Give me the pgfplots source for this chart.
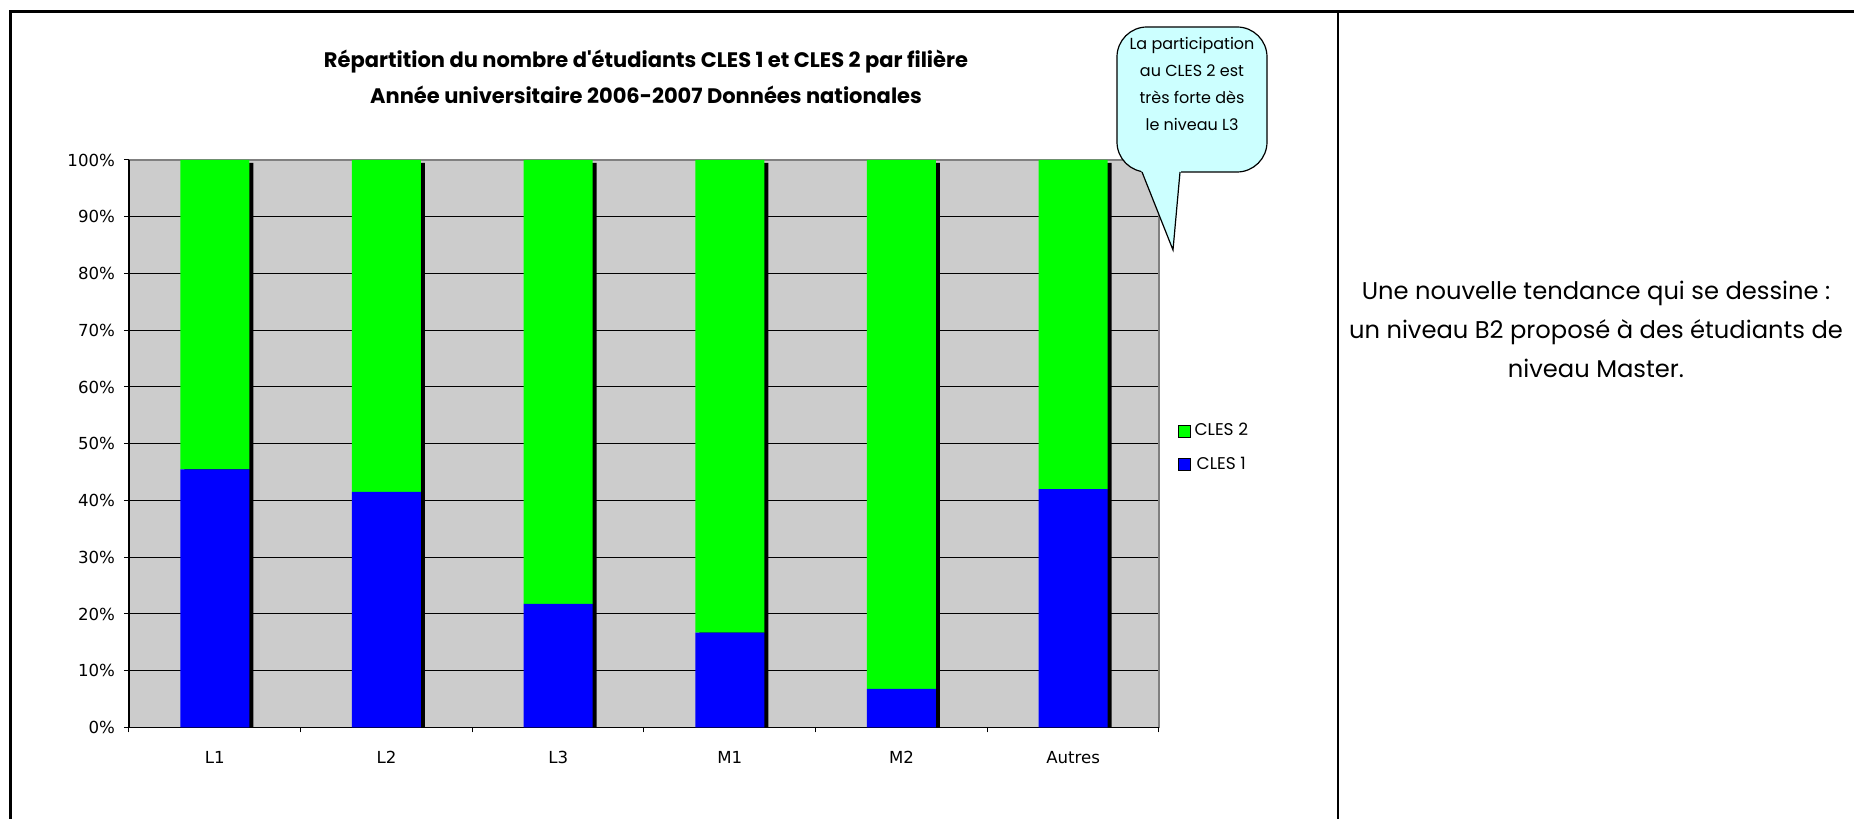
\documentclass[border=0pt]{standalone}
\usepackage{fontspec}
\setmainfont{DejaVu Sans}
\newfontfamily\comic{Poppins}
\usepackage{pgfplots}
\usepackage{pgfplotstable}
\pgfplotsset{compat=1.18}

\definecolor{fondgris}{HTML}{CCCCCC}
\definecolor{clesun}{HTML}{0000FF}
\definecolor{clesdeux}{HTML}{00FF00}
\definecolor{bulle}{HTML}{CCFFFF}

% part of CLES 1 / CLES 2 in each level (%)
\pgfplotstableread{
cat cles1 cles2
1   45.5  54.5
2   41.5  58.5
3   21.8  78.2
4   16.7  83.3
5    6.8  93.2
6   42.0  58.0
}\repartition

\begin{document}
\begin{tikzpicture}[x=0.5pt,y=0.5pt]
\path[use as bounding box] (0,0) rectangle (1854,819);

% frame of the slide
\draw[line width=1.5pt] (10,0) -- (10,807.5) -- (1854,807.5);
\draw[line width=1pt] (1338,807.5) -- (1338,0);

\pgfplotsset{cadre/.style={
  at={(64.5pt,45.75pt)}, anchor=south west,
  scale only axis, width=515pt, height=283.75pt,
  xmin=0.5, xmax=6.5, ymin=0, ymax=100,
  bar width=34.5pt,
}}

% background, grid and bar shadows
\begin{axis}[cadre,
  ybar,
  axis background/.style={fill=fondgris},
  axis line style={draw=gray, line width=0.6pt},
  xtick=\empty, ytick={0,10,...,100}, yticklabels={},
  major tick length=0pt,
  ymajorgrids, grid style={black, line width=0.5pt},
]
\addplot[fill=black, draw=none, bar shift=2pt]
  coordinates {(1,99.5) (2,99.5) (3,99.5) (4,99.5) (5,99.5) (6,99.5)};
\end{axis}

% stacked bars
\begin{axis}[cadre,
  ybar stacked,
  axis x line*=bottom, axis y line*=left,
  axis line style={black, line width=0.6pt},
  tick align=outside,
  xtick={1,...,6}, xticklabels={L1,L2,L3,M1,M2,Autres},
  major x tick style={draw=none},
  minor xtick={0.5,1.5,...,6.5}, minor x tick style={black, line width=0.5pt},
  minor tick length=2.5pt,
  ytick={0,10,...,100},
  yticklabels={0\%,10\%,20\%,30\%,40\%,50\%,60\%,70\%,80\%,90\%,100\%},
  major tick length=2.5pt, y tick style={black, line width=0.5pt},
  tick label style={font=\fontsize{8.3}{10}\selectfont},
  xticklabel style={yshift=-6pt},
  yticklabel style={xshift=-1pt},
  reverse legend,
  legend style={draw=none, fill=none, at={(1.012,0.5507)}, anchor=north west,
    font=\comic\fontsize{8.5}{10}\selectfont, row sep=5pt},
  legend image code/.code={\draw[#1] (0pt,-3pt) rectangle (6pt,3pt);},
]
\addplot[fill=clesun, draw=none] table[x=cat, y=cles1]{\repartition};
\addplot[fill=clesdeux, draw=none] table[x=cat, y=cles2]{\repartition};
\legend{CLES 1, CLES 2}
\end{axis}

% title
\node[align=center, font=\comic\bfseries\fontsize{10.5}{18}\selectfont]
  at (646,742) {Répartition du nombre d'étudiants CLES 1 et CLES 2 par filière\\
  Année universitaire 2006-2007 Données nationales};

% callout
\draw[fill=bulle, line width=0.6pt, rounded corners=15] (1117,647) rectangle (1267,792);
\fill[bulle] (1141,649) -- (1173,569) -- (1181,649) -- cycle;
\draw[line width=0.6pt] (1142,647) -- (1173,569) -- (1180,647);
\node[align=center, font=\comic\fontsize{8}{13.5}\selectfont]
  at (1192,735) {La participation\\au CLES 2 est\\très forte dès\\le niveau L3};

% comment on the right
\node[align=center, font=\comic\fontsize{12.1}{19.5}\selectfont]
  at (1596,490) {Une nouvelle tendance qui se dessine :\\
  un niveau B2 proposé à des étudiants de\\niveau Master.};
\end{tikzpicture}
\end{document}
